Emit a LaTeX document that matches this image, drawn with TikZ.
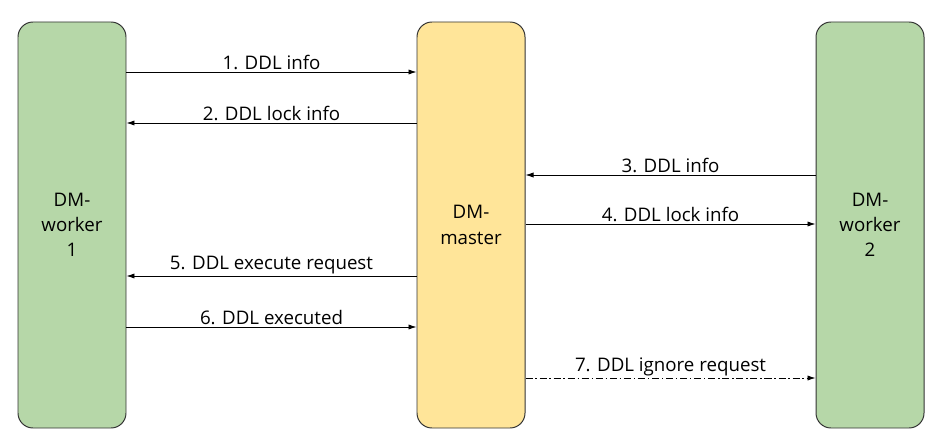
\documentclass[tikz,border=0pt]{standalone}
\usepackage{fontspec}
\setmainfont{Open Sans}
\usetikzlibrary{arrows.meta, positioning}
\definecolor{cgreen}{HTML}{B6D7A8}
\definecolor{cyellow}{HTML}{FFE599}
\definecolor{cline}{HTML}{333333}
\tikzset{
  every picture/.style={font=\fontsize{13.3}{18}\selectfont, line width=0.7pt},
  lane/.style={draw=cline, fill=#1, rounded corners=0.375cm, align=center,
    minimum width=2.7cm, minimum height=10.15cm, inner sep=0pt},
  lane/.default=cgreen,
  msg/.style={-{Latex[length=2mm, width=1.3mm]}, draw=black, line width=0.6pt},
  lbl/.style={above, inner sep=1pt},
}

\begin{document}
\begin{tikzpicture}
  \useasboundingbox (0,0) rectangle (23.475,-11.175);
  % participants
  \node[lane] (w1) at (1.8,-5.625) {DM-\\worker\\1};
  \node[lane=cyellow] (dm) at (11.775,-5.625) {DM-\\master};
  \node[lane] (w2) at (21.75,-5.625) {DM-\\worker\\2};
  % worker 1 <-> master
  \foreach \y/\s/\t/\m in {-1.8/w1.east/dm.west/1. DDL info,
      -3.075/dm.west/w1.east/2. DDL lock info,
      -6.9/dm.west/w1.east/5. DDL execute request,
      -8.175/w1.east/dm.west/6. DDL executed} {
    \draw[msg] (\s |- 0,\y) -- (\t |- 0,\y) node[lbl, midway] {\m};
  }
  % master <-> worker 2
  \draw[msg] (w2.west |- 0,-4.375) -- (dm.east |- 0,-4.375) node[lbl, midway] {3. DDL info};
  \draw[msg] (dm.east |- 0,-5.6) -- (w2.west |- 0,-5.6) node[lbl, midway] {4. DDL lock info};
  \draw[msg, dash pattern=on 5pt off 2pt on 1pt off 2pt] (dm.east |- 0,-9.45) -- (w2.west |- 0,-9.45) node[lbl, midway] {7. DDL ignore request};
\end{tikzpicture}
\end{document}
